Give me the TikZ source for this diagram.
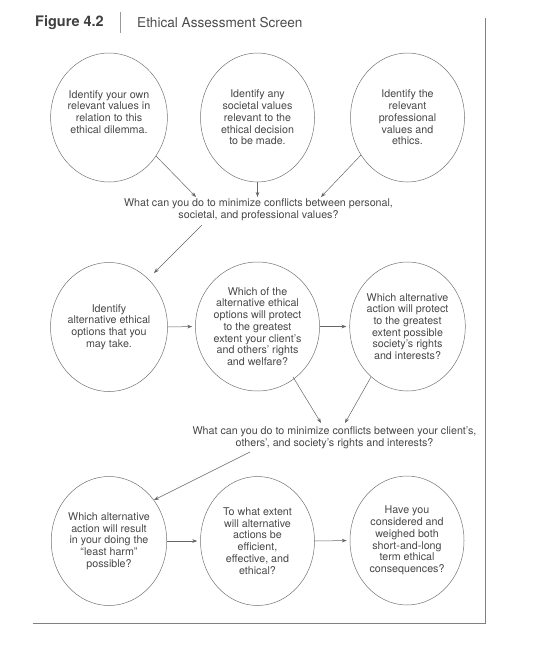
\documentclass[tikz,border=0pt]{standalone}
\usepackage{fontspec}
\setmainfont{TeX Gyre Heros}
\usetikzlibrary{shapes.geometric,arrows.meta,calc}
\tikzset{
	bubble/.style={draw=black!55, line width=0.5pt, ellipse, minimum width=114pt, minimum height=129pt, inner sep=0pt, align=center, text=black!72, font=\fontsize{10.7}{11.7}\selectfont},
	question/.style={align=center, inner sep=0pt, text=black!72, font=\fontsize{10.7}{11.7}\selectfont},
	flow/.style={draw=black!60, line width=0.5pt, -{Stealth[length=5pt,width=3.6pt]}},
	frame/.style={draw=black!50, line width=0.6pt},
}

\begin{document}
\begin{tikzpicture}[x=1pt,y=-1pt]
			%%%%% START %%%%%
			\useasboundingbox (0,0) rectangle (539,645);
			
			% heading
			\node[anchor=west, inner sep=0pt, text=black!75, font=\bfseries\fontsize{14.5}{16}\selectfont] (fig) at (35,23) {Figure 4.2};
			\node[anchor=west, inner sep=0pt, text=black!70, font=\fontsize{13.6}{15}\selectfont] (title) at (137,23) {Ethical Assessment Screen};
			\draw[frame, black!40] (120,12) -- (120,33);
			
			% frame
			\draw[frame] (485,18) -- (485,623) -- (33,623);
			
			% first row
			\node[bubble] (own) at (109,117.5) {Identify your own\\relevant values in\\relation to this\\ethical dilemma.\\\mbox{}};
			\node[bubble] (soc) at (257.5,117.5) {Identify any\\societal values\\relevant to the\\ethical decision\\to be made.};
			\node[bubble] (prof) at (407.5,117.5) {Identify the\\relevant\\professional\\values and\\ethics.};
			
			\node[question] (conflA) at (258.5,210) {What can you do to minimize conflicts between personal,\\societal, and professional values?};
			
			\draw[flow] ($(own)+(47,38.5)$) -- ($(conflA)+(-62.5,-13)$);
			\draw[flow] (soc.south) -- ($(conflA)+(-1,-13)$);
			\draw[flow] ($(prof)+(-46.5,37.5)$) -- ($(conflA)+(62.5,-13)$);
			
			% second row
			\node[bubble] (alt) at (109,327) {Identify\\alternative ethical\\options that you\\may take.};
			\node[bubble] (client) at (257.5,326.5) {Which of the\\alternative ethical\\options will protect\\to the greatest\\extent your client's\\and others' rights\\and welfare?};
			\node[bubble] (society) at (407.5,326.5) {Which alternative\\action will protect\\to the greatest\\extent possible\\society's rights\\and interests?};
			
			\draw[flow] ($(conflA)+(-56.5,15)$) -- ($(alt)+(45,-54)$);
			\draw[flow, shorten >=3pt] (alt.east) -- (client.west);
			\draw[flow, shorten >=3pt] (client.east) -- (society.west);
			
			\node[question] (conflB) at (334.5,437.5) {What can you do to minimize conflicts between your client's,\\others', and society's rights and interests?};
			
			\draw[flow] ($(client)+(35.5,50.5)$) -- ($(conflB)+(-13.5,-14.5)$);
			\draw[flow] ($(society)+(-36.5,50.5)$) -- ($(conflB)+(10.5,-14.5)$);
			
			% third row
			\node[bubble] (harm) at (109,541) {Which alternative\\action will result\\in your doing the\\``least harm''\\possible?};
			\node[bubble] (effic) at (257.5,541) {To what extent\\will alternative\\actions be\\efficient,\\effective, and\\ethical?};
			\node[bubble] (longt) at (407,540.5) {Have you\\considered and\\weighed both\\short-and-long\\term ethical\\consequences?};
			
			\draw[flow] ($(conflB)+(-84.5,14.5)$) -- ($(harm)+(45,-41)$);
			\draw[flow, shorten >=3pt] (harm.east) -- (effic.west);
			\draw[flow, shorten >=3pt] (effic.east) -- (longt.west);
			%%%%% END %%%%%
\end{tikzpicture}
\end{document}
